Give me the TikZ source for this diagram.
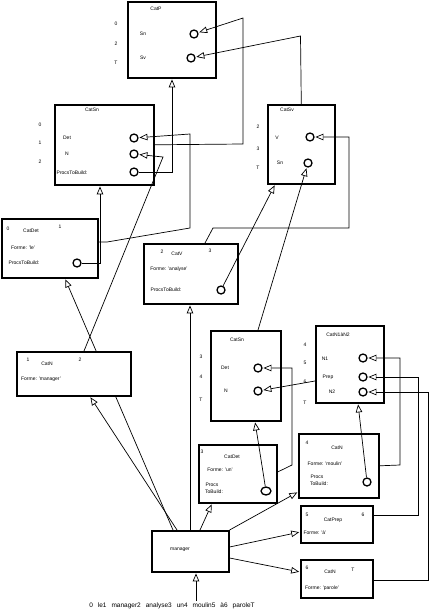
\documentclass[tikz,border=0pt]{standalone}
\usepackage{fontspec}
\setmainfont{Liberation Sans}
\usetikzlibrary{arrows.meta,shapes.geometric}
\pgfdeclarelayer{bg}
\pgfsetlayers{bg,main}
\begin{document}
\begin{tikzpicture}[x=1pt,y=-1pt,
  box/.style={draw,line width=1.6pt,fill=white,inner sep=0pt,anchor=north west},
  slot/.style={circle,draw,line width=1.3pt,minimum size=8pt,inner sep=0pt},
  oval/.style={ellipse,draw,line width=1.3pt,minimum width=10pt,minimum height=8pt,inner sep=0pt},
  txt/.style={inner sep=0pt,font=\fontsize{5}{6}\selectfont},
  conn/.style={line width=0.7pt},
  arr/.style={conn,-{Triangle[open,length=8pt,width=6.5pt,line width=0.7pt]},shorten >=0.8pt}]
\useasboundingbox (0,0) rectangle (432,613);
% boxes
\node[box,minimum width=88pt,minimum height=76pt] (P) at (127,1) {};
\node[box,minimum width=99pt,minimum height=80pt] (Sn1) at (54,104) {};
\node[box,minimum width=67pt,minimum height=79pt] (Sv) at (267,104) {};
\node[box,minimum width=96pt,minimum height=59pt] (Det1) at (1,218) {};
\node[box,minimum width=94pt,minimum height=60pt] (V) at (143,243) {};
\node[box,minimum width=114pt,minimum height=44pt] (N1) at (16,351) {};
\node[box,minimum width=70pt,minimum height=90pt] (Sn2) at (210,330) {};
\node[box,minimum width=68pt,minimum height=77pt] (NaN) at (315,325) {};
\node[box,minimum width=78pt,minimum height=58pt] (Det2) at (198,444) {};
\node[box,minimum width=80pt,minimum height=64pt] (N2) at (298,433) {};
\node[box,minimum width=72pt,minimum height=37pt] (Prep) at (300,505) {};
\node[box,minimum width=72pt,minimum height=38pt] (N3) at (300,559) {};
\node[box,minimum width=77pt,minimum height=41pt] (M) at (151,530) {};
% CatP
\node[txt] (tP) at (156,9) {CatP};
\node[txt] (p0) at (116,24) {0};
\node[txt] (p1) at (116,44) {2};
\node[txt] (pT) at (116,63) {T};
\node[txt] (pl1) at (143,34) {Sn};
\node[txt] (pl2) at (143,58) {Sv};
\node[slot] (pSn) at (194,34) {};
\node[slot] (pSv) at (191,58) {};
% CatSn 1
\node[txt] (tSn1) at (92,110) {CatSn};
\node[txt] (a0) at (40,125) {0};
\node[txt] (a1) at (40,143) {1};
\node[txt] (a2) at (40,162) {2};
\node[txt] (al1) at (67,138) {Det};
\node[txt] (al2) at (67,154) {N};
\node[txt] (al3) at (72,173) {ProcsToBuild:};
\node[slot] (s1Det) at (134,138) {};
\node[slot] (s1N) at (134,154) {};
\node[slot] (s1P) at (134,172) {};
% CatSv
\node[txt] (tSv) at (287,110) {CatSv};
\node[txt] (b0) at (258,127) {2};
\node[txt] (b1) at (258,149) {3};
\node[txt] (bT) at (258,168) {T};
\node[txt] (bl1) at (277,138) {V};
\node[txt] (bl2) at (280,163) {Sn};
\node[slot] (vV) at (310,137) {};
\node[slot] (vSn) at (308,163) {};
% CatDet le
\node[txt] (c0) at (8,229) {0};
\node[txt] (tDet1) at (31,231) {CatDet};
\node[txt] (c1) at (60,227) {1};
\node[txt] (cf) at (23,248) {Forme: 'le'};
\node[txt] (cp) at (24,263) {ProcsToBuild:};
\node[slot] (d1P) at (77,263) {};
% CatV
\node[txt] (e0) at (162,252) {2};
\node[txt] (tV) at (177,254) {CatV};
\node[txt] (e1) at (210,251) {3};
\node[txt] (ef) at (169,269) {Forme: 'analyse'};
\node[txt] (ep) at (166,290) {ProcsToBuild:};
\node[slot] (vP) at (221,290) {};
% CatN manager
\node[txt] (f0) at (28,360) {1};
\node[txt] (tN1) at (47,364) {CatN};
\node[txt] (f1) at (80,360) {2};
\node[txt] (ff) at (41,379) {Forme: 'manager'};
% CatSn 2
\node[txt] (tSn2) at (237,340) {CatSn};
\node[txt] (g0) at (201,357) {3};
\node[txt] (g1) at (201,377) {4};
\node[txt] (gT) at (201,400) {T};
\node[txt] (gl1) at (225,368) {Det};
\node[txt] (gl2) at (226,391) {N};
\node[slot] (s2Det) at (258,368) {};
\node[slot] (s2N) at (258,391) {};
% CatN1aN2
\node[txt] (tNaN) at (338,335) {CatN1àN2};
\node[txt] (h0) at (305,345) {4};
\node[txt] (h1) at (305,363) {5};
\node[txt] (h2) at (305,382) {6};
\node[txt] (hT) at (305,403) {T};
\node[txt] (hl1) at (325,359) {N1};
\node[txt] (hl2) at (328,377) {Prep};
\node[txt] (hl3) at (332,392) {N2};
\node[slot] (nN1) at (363,358) {};
\node[slot] (nPrep) at (363,377) {};
\node[slot] (nN2) at (363,392) {};
% CatDet un
\node[txt] (i0) at (202,452) {3};
\node[txt] (tDet2) at (232,457) {CatDet};
\node[txt] (if) at (220,470) {Forme: 'un'};
\node[txt] (ip1) at (212,485) {Procs};
\node[txt] (ip2) at (214,492) {ToBuild:};
\node[oval] (e2P) at (266,491) {};
% CatN moulin
\node[txt] (j0) at (307,443) {4};
\node[txt] (tN2) at (337,448) {CatN};
\node[txt] (jf) at (325,464) {Forme: 'moulin'};
\node[txt] (jp1) at (317,477) {Procs};
\node[txt] (jp2) at (319,484) {ToBuild:};
\node[slot] (n2P) at (367,482) {};
% CatPrep
\node[txt] (k0) at (307,515) {5};
\node[txt] (tPrep) at (333,520) {CatPrep};
\node[txt] (k1) at (363,515) {6};
\node[txt] (kf) at (315,533) {Forme: 'à'};
% CatN parole
\node[txt] (l0) at (307,568) {6};
\node[txt] (tN3) at (330,572) {CatN};
\node[txt] (l1) at (353,570) {T};
\node[txt] (lf) at (322,588) {Forme: 'parole'};
% manager
\node[txt] (tM) at (180,550) {manager};
\node[txt,font=\fontsize{6.5}{7.5}\selectfont] (tIn) at (172,606) {\spaceskip=5pt 0 le1 manager2 analyse3 un4 moulin5 à6 paroleT};
% waypoints
\coordinate (w1) at (243,144);
\coordinate (w2) at (243,18);
\coordinate (w3) at (300.5,36);
\coordinate (w4) at (172,172);
\coordinate (w5) at (100,263);
\coordinate (w6a) at (107,242);
\coordinate (w6b) at (190,228);
\coordinate (w6c) at (190,134);
\coordinate (w7a) at (163,157);
\coordinate (w8a) at (213,228);
\coordinate (w8b) at (349,228);
\coordinate (w8c) at (349,137);
\coordinate (w9a) at (292,465);
\coordinate (w9b) at (292,368);
\coordinate (w10a) at (400,465);
\coordinate (w10b) at (400,358);
\coordinate (w11a) at (418,515);
\coordinate (w11b) at (418,377);
\coordinate (w12a) at (428,580);
\coordinate (w12b) at (428,392);
\coordinate (in) at (196,601);
% connectors
\draw[arr] (Sn1.east) -- (w1) -- (w2) -- (pSn);
\draw[arr] (Sv.north) -- (w3) -- (pSv);
\draw[arr] (s1P) -- (w4) -- (P.south -| w4);
\draw[arr] (d1P) -- (w5) -- (Sn1.south -| w5);
\draw[arr] (Det1.east |- w6a) -- (w6a) -- (w6b) -- (w6c) -- (s1Det);
\draw[arr] (N1.north -| 84,0) -- (w7a) -- (s1N);
\draw[arr] (V.north -| 205,0) -- (w8a) -- (w8b) -- (w8c) -- (vV);
\draw[arr] (vP) -- (Sv.south -| 275,0);
\draw[arr] (Sn2.north -| 258,0) -- (vSn);
\draw[arr] (Det2.east |- 0,472) -- (w9a) -- (w9b) -- (s2Det);
\draw[arr] (NaN.west |- 0,381) -- (s2N);
\draw[arr] (e2P) -- (Sn2.south -| 255,0);
\draw[arr] (n2P) -- (NaN.south -| 358,0);
\draw[arr] (N2.east) -- (w10a) -- (w10b) -- (nN1);
\draw[arr] (Prep.east |- 0,515) -- (w11a) -- (w11b) -- (nPrep);
\draw[arr] (N3.east |- 0,580) -- (w12a) -- (w12b) -- (nN2);
\begin{pgfonlayer}{bg}
\draw[arr] (M.north -| 173,0) -- (Det1.south -| 65,0);
\end{pgfonlayer}
\draw[arr] (M.north -| 177,0) -- (N1.south -| 90,0);
\draw[arr] (M.north -| 190,0) -- (V.south -| 190,0);
\draw[arr] (M.north -| 200,0) -- (Det2.south -| 212,0);
\draw[arr] (M.north east) -- (N2.west |- 0,492);
\draw[arr] (M.east |- 0,547) -- (Prep.west |- 0,532);
\draw[arr] (M.east |- 0,558) -- (N3.west |- 0,572);
\draw[arr] (in) -- (M.south -| in);
\end{tikzpicture}
\end{document}
